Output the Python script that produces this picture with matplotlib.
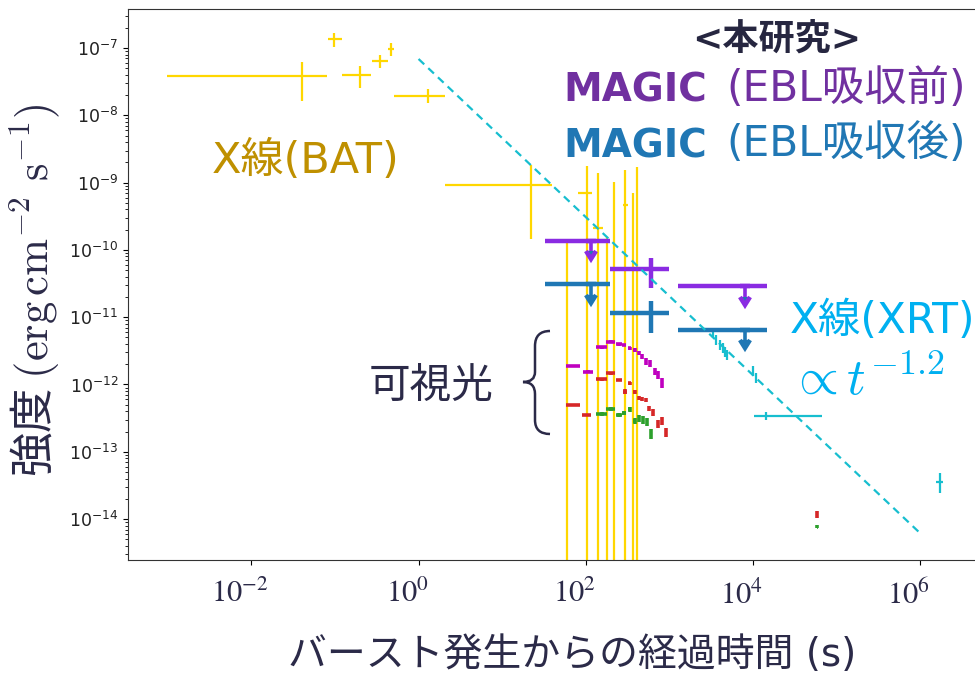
import numpy as np
import matplotlib
matplotlib.use('Agg')
import matplotlib.pyplot as plt
from matplotlib.path import Path
from matplotlib.patches import PathPatch
from matplotlib.transforms import ScaledTranslation

plt.rcParams['font.family'] = ['DejaVu Sans', 'Noto Sans CJK JP']

# ---------------- data ----------------
# Swift-BAT (X-ray) points: time [s] with bounds, flux with bounds
bat_t = [0.0405, 0.098, 0.199, 0.344, 0.467, 1.28, 21.9]
bat_t_lo = [0.00097, 0.0815, 0.121, 0.276, 0.433, 0.511, 2.07]
bat_t_hi = [0.0794, 0.121, 0.271, 0.426, 0.511, 2.07, 39.0]
bat_f = [3.84e-8, 1.349e-7, 3.97e-8, 6.41e-8, 9.57e-8, 1.94e-8, 9.19e-10]
bat_f_lo = [1.636e-8, 1.046e-7, 2.57e-8, 5.00e-8, 7.61e-8, 1.543e-8, 1.442e-10]
bat_f_hi = [6.26e-8, 1.653e-7, 5.46e-8, 7.87e-8, 1.197e-7, 2.44e-8, 1.83e-9]

# BAT points whose lower error reaches zero
batz_t = [60.4, 102.3, 139.6, 180.4, 218.8, 299.2, 373.0, 412.0]
batz_t_lo = [59.0, 80.5, 121.6, 177.0, 215.0, 279.0, 366.0, 405.0]
batz_t_hi = [61.8, 120.5, 158.9, 184.0, 223.0, 320.0, 380.0, 420.0]
batz_f = [6.75e-11, 7.07e-10, 2.09e-10, 1.01e-10, 5.06e-10, 4.65e-10, 3.37e-10, 8.04e-10]
batz_f_hi = [1.35e-10, 1.76e-9, 1.39e-9, 1.58e-10, 1.01e-9, 1.54e-9, 7.02e-10, 1.69e-9]

# MAGIC upper limits
magic_ul_t = [115.0, 8000.0]
magic_ul_t_lo = [32.4, 1274.0]
magic_ul_t_hi = [194.0, 14790.0]
magic_pre_ul = [1.374e-10, 2.91e-11]
magic_post_ul = [3.12e-11, 6.53e-12]
# MAGIC detection
magic_det_t = [596.0]
magic_det_t_lo = [194.0]
magic_det_t_hi = [995.0]
magic_pre_det = [5.15e-11]
magic_pre_det_lo = [2.69e-11]
magic_pre_det_hi = [7.66e-11]
magic_post_det = [1.143e-11]
magic_post_det_lo = [5.89e-12]
magic_post_det_hi = [1.745e-11]

# Swift-XRT
xrt_t = [3311, 3597, 4018, 4365, 4613, 4875, 9977, 10840, 14260, 1.718e6]
xrt_t_lo = [3210, 3490, 3900, 4240, 4480, 4730, 9700, 10540, 10260, 1.570e6]
xrt_t_hi = [3410, 3700, 4140, 4490, 4750, 5020, 10260, 11150, 68100, 1.884e6]
xrt_f = [5.83e-12, 4.60e-12, 3.86e-12, 3.49e-12, 3.04e-12, 2.75e-12, 1.585e-12, 1.248e-12, 3.44e-13, 3.60e-14]
xrt_f_lo = [4.89e-12, 3.88e-12, 3.29e-12, 2.95e-12, 2.57e-12, 2.32e-12, 1.349e-12, 1.054e-12, 2.97e-13, 2.45e-14]
xrt_f_hi = [6.91e-12, 5.44e-12, 4.55e-12, 4.13e-12, 3.60e-12, 3.25e-12, 1.855e-12, 1.476e-12, 3.95e-13, 4.84e-14]

# optical (three bands); errors given in dex
mag_t = [70.7, 106.9, 154.5, 198, 249, 288, 337, 386, 432, 469, 524, 584, 671, 735, 829]
mag_f = [1.88e-12, 1.55e-12, 3.58e-12, 4.33e-12, 3.96e-12, 3.86e-12, 3.45e-12, 3.25e-12,
         2.91e-12, 2.59e-12, 2.18e-12, 2.07e-12, 1.55e-12, 1.383e-12, 1.046e-12]
mag_tdex = [0.08, 0.056, 0.06, 0.05, 0.035, 0.02, 0.02, 0.015, 0.01, 0.01, 0.01, 0.01, 0.01, 0.01, 0.01]
mag_fdex = [0.02, 0.02, 0.02, 0.02, 0.02, 0.02, 0.02, 0.025, 0.03, 0.04, 0.05, 0.05, 0.05, 0.06, 0.07]

red_t = [70.7, 102.3, 154.5, 198, 249, 294, 337, 386, 435, 478, 524, 573, 640, 735, 820, 908, 59300]
red_f = [4.97e-13, 3.52e-13, 1.197e-12, 1.467e-12, 1.164e-12, 7.82e-13, 1.046e-12, 7.82e-13, 6.37e-13,
         6.10e-13, 5.89e-13, 4.44e-13, 3.81e-13, 2.59e-13, 2.90e-13, 1.92e-13, 1.18e-14]
red_tdex = [0.08, 0.056, 0.06, 0.05, 0.035, 0.02, 0.02, 0.015, 0.01, 0.01, 0.01, 0.01, 0.01, 0.01, 0.01, 0.01, 0.005]
red_fdex = [0.02, 0.02, 0.02, 0.02, 0.02, 0.04, 0.02, 0.03, 0.03, 0.03, 0.03, 0.04, 0.05, 0.06, 0.06, 0.07, 0.05]

grn_t = [154.5, 198, 249, 288, 337, 386, 438, 482, 534, 601, 59300]
grn_f = [3.65e-13, 4.26e-13, 3.52e-13, 3.71e-13, 4.26e-13, 2.87e-13, 3.13e-13, 2.97e-13, 2.77e-13, 1.84e-13, 7.71e-15]
grn_tdex = [0.06, 0.05, 0.035, 0.02, 0.02, 0.015, 0.01, 0.01, 0.01, 0.01, 0.005]
grn_fdex = [0.03, 0.03, 0.03, 0.03, 0.04, 0.05, 0.05, 0.06, 0.06, 0.08, 0.02]

# guide line (labelled  ∝ t^-1.2), end points as drawn
guide_t = [1.0, 1.0e6]
guide_f = [6.87e-8, 6.2e-15]

x_ticks = [1e-2, 1e0, 1e2, 1e4, 1e6]
x_ticklabels = ['$10^{-2}$', '$10^{0}$', '$10^{2}$', '$10^{4}$', '$10^{6}$']

# ---------------- figure ----------------
W, H = 975, 677
fig = plt.figure(figsize=(W / 100, H / 100), dpi=100)
ax = fig.add_axes([128 / W, 1 - 560 / H, (980 - 128) / W, (560 - 9) / H])
ax.set_xscale('log')
ax.set_yscale('log')

GOLD = '#FFD700'
CYAN = '#17becf'
PURPLE = '#8A2BE2'
BLUE = '#1f77b4'
NAVY = '#2b2a48'


def asym(v, lo, hi):
    v = np.asarray(v, float)
    return [v - np.asarray(lo, float), np.asarray(hi, float) - v]


def dex_err(v, d):
    v = np.asarray(v, float)
    d = np.asarray(d, float)
    return [v - v / 10 ** d, v * 10 ** d - v]


# BAT
ax.errorbar(bat_t, bat_f, xerr=asym(bat_t, bat_t_lo, bat_t_hi), yerr=asym(bat_f, bat_f_lo, bat_f_hi),
            fmt='none', ecolor=GOLD, elinewidth=1.6, zorder=2)
batz_f_arr = np.asarray(batz_f)
ax.errorbar(batz_t, batz_f, xerr=asym(batz_t, batz_t_lo, batz_t_hi),
            yerr=[batz_f_arr * (1 - 1e-9), np.asarray(batz_f_hi) - batz_f_arr],
            fmt='none', ecolor=GOLD, elinewidth=1.6, zorder=2)

# optical
for t, f, td, fd, c in [(mag_t, mag_f, mag_tdex, mag_fdex, 'm'),
                        (red_t, red_f, red_tdex, red_fdex, '#d62728'),
                        (grn_t, grn_f, grn_tdex, grn_fdex, '#2ca02c')]:
    ax.errorbar(t, f, xerr=dex_err(t, td), yerr=dex_err(f, fd), fmt='none', ecolor=c,
                elinewidth=2.6, zorder=3)

# XRT
ax.errorbar(xrt_t, xrt_f, xerr=asym(xrt_t, xrt_t_lo, xrt_t_hi), yerr=asym(xrt_f, xrt_f_lo, xrt_f_hi),
            fmt='none', ecolor=CYAN, elinewidth=1.6, zorder=3)

# MAGIC
for ul, det, dlo, dhi, c in [(magic_pre_ul, magic_pre_det, magic_pre_det_lo, magic_pre_det_hi, PURPLE),
                             (magic_post_ul, magic_post_det, magic_post_det_lo, magic_post_det_hi, BLUE)]:
    ul = np.asarray(ul)
    ax.errorbar(magic_ul_t, ul, xerr=asym(magic_ul_t, magic_ul_t_lo, magic_ul_t_hi),
                fmt='none', ecolor=c, elinewidth=3.2, capsize=0, zorder=4)
    ax.errorbar(magic_ul_t, ul, yerr=ul * (1 - 10 ** -0.16), uplims=True, fmt='none', ecolor=c,
                elinewidth=2.6, capsize=3.6, capthick=3.2, zorder=4)
    ax.errorbar(magic_det_t, det, xerr=asym(magic_det_t, magic_det_t_lo, magic_det_t_hi),
                yerr=asym(det, dlo, dhi), fmt='none', ecolor=c, elinewidth=3.2, zorder=4)

# guide line
ax.plot(guide_t, guide_f, ls=(0, (3.5, 2.5)), color=CYAN, lw=1.6, zorder=5)

ax.set_xlim(10 ** -3.477, 10 ** 6.718)
ax.set_ylim(10 ** -14.608, 10 ** -6.42)
ax.set_xticks(x_ticks)
ax.set_xticklabels(x_ticklabels)
ax.xaxis.set_minor_locator(matplotlib.ticker.NullLocator())

ax.tick_params(axis='y', labelsize=12.5, labelcolor='#222222')
ax.tick_params(axis='x', labelsize=22, labelfontfamily='STIXGeneral', labelcolor=NAVY, pad=11)
shift = ScaledTranslation(-8 / 72, 0, fig.dpi_scale_trans)
for tk in ax.xaxis.get_major_ticks():
    tk.label1.set_math_fontfamily('stix')
    tk.label1.set_transform(tk.label1.get_transform() + shift)
for s in ax.spines.values():
    s.set_color('#333333')


def P(x, y):
    return (x / W, 1 - y / H)


# axis labels
fig.text(*P(35, 290), '強度 $(\\mathrm{erg\\,cm^{-2}\\ s^{-1}})$', rotation=90, ha='center', va='center',
         fontsize=32, color=NAVY, math_fontfamily='cm', family=['Noto Sans CJK JP', 'DejaVu Sans'])
fig.text(*P(572, 655), 'バースト発生からの経過時間 (s)', ha='center', va='center', fontsize=28, color=NAVY)

# annotations
fig.text(*P(777, 39), '<本研究>', ha='center', va='center', fontsize=26, fontweight='bold', color='#262640')
t1 = fig.text(*P(563, 102), 'MAGIC', ha='left', va='baseline', fontsize=28, fontweight='bold', color='#7030A0')
ax.annotate('(EBL吸収前)', xy=(1, 0), xycoords=t1, xytext=(14, 0), textcoords='offset points',
            ha='left', va='bottom', fontsize=30.5, color='#7030A0', annotation_clip=False)
t2 = fig.text(*P(563, 157), 'MAGIC', ha='left', va='baseline', fontsize=28, fontweight='bold', color='#2077b4')
ax.annotate('(EBL吸収後)', xy=(1, 0), xycoords=t2, xytext=(14, 0), textcoords='offset points',
            ha='left', va='bottom', fontsize=30.5, color='#2077b4', annotation_clip=False)
fig.text(*P(212, 173), 'X線(BAT)', ha='left', va='baseline', fontsize=31, color='#BF9000')
fig.text(*P(790, 333), 'X線(XRT)', ha='left', va='baseline', fontsize=30.5, color='#00B0F0')
fig.text(*P(789, 395), r'$\propto t^{-1.2}$', ha='left', va='baseline', fontsize=37, color='#00B0F0',
         math_fontfamily='cm')
fig.text(*P(431, 386), '可視光', ha='center', va='center', fontsize=30, color=NAVY)

# curly brace
verts = [P(550, 331), P(535, 331), P(535, 346),
         P(535, 372), P(535, 382), P(523, 382),
         P(535, 382), P(535, 394),
         P(535, 420), P(535, 434), P(550, 434)]
codes = [Path.MOVETO, Path.CURVE3, Path.CURVE3,
         Path.LINETO, Path.CURVE3, Path.CURVE3,
         Path.CURVE3, Path.CURVE3,
         Path.LINETO, Path.CURVE3, Path.CURVE3]
fig.add_artist(PathPatch(Path(verts, codes), transform=fig.transFigure, fill=False,
                         edgecolor=NAVY, lw=1.8))

fig.savefig('out.png', dpi=100)
